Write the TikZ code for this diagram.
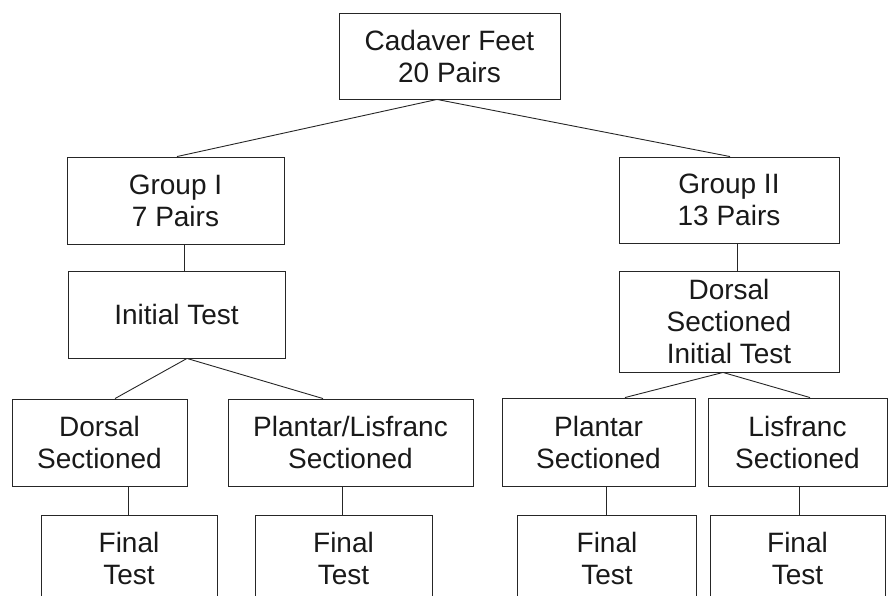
\documentclass[tikz,border=0pt]{standalone}
\usepackage{fontspec}
\setmainfont{Liberation Sans}
\usetikzlibrary{calc}
\begin{document}
\begin{tikzpicture}[x=1pt,y=-1pt,
  box/.style={draw=black!85, line width=0.9pt, rectangle, inner sep=0pt, align=center,
    font=\fontsize{28}{32}\selectfont, text=black!90},
  conn/.style={draw=black!85, line width=0.9pt}]
\useasboundingbox (0,0) rectangle (889,596);
\clip (0,0) rectangle (889,596);
\node[box, minimum width=221pt, minimum height=86pt] (top) at (449.5,56) {Cadaver Feet\\20 Pairs};
\node[box, minimum width=217pt, minimum height=87pt] (g1) at (175.5,200.5) {Group I\\7 Pairs};
\node[box, minimum width=217pt, minimum height=87pt] (it1) at (176.5,314.5) {Initial Test};
\node[box, minimum width=220pt, minimum height=86pt] (g2) at (729,200) {Group II\\13 Pairs};
\node[box, minimum width=220pt, minimum height=101pt] (it2) at (729,321.5) {Dorsal\\Sectioned\\Initial Test};
\node[box, minimum width=175pt, minimum height=87pt] (ds) at (99.5,442.5) {Dorsal\\Sectioned};
\node[box, minimum width=245pt, minimum height=87pt] (pl) at (350.5,442.5) {Plantar/Lisfranc\\Sectioned};
\node[box, minimum width=193pt, minimum height=88pt] (ps) at (598.5,442) {Plantar\\Sectioned};
\node[box, minimum width=179pt, minimum height=88pt] (ls) at (797.5,442) {Lisfranc\\Sectioned};
\node[box, minimum width=176pt, minimum height=87pt] (f1) at (129,558.5) {Final\\Test};
\node[box, minimum width=177pt, minimum height=87pt] (f2) at (343.5,558.5) {Final\\Test};
\node[box, minimum width=179pt, minimum height=87pt] (f3) at (607,558.5) {Final\\Test};
\node[box, minimum width=175pt, minimum height=87pt] (f4) at (797.5,558.5) {Final\\Test};
% connectors
\draw[conn] ([xshift=-12.5pt]top.south) -- ([xshift=1.5pt]g1.north);
\draw[conn] ([xshift=-12.5pt]top.south) -- ([xshift=1pt]g2.north);
\draw[conn] ([xshift=8.5pt]g1.south) -- ([xshift=7.5pt]it1.north);
\draw[conn] ([xshift=8pt]g2.south) -- ([xshift=8pt]it2.north);
\draw[conn] ([xshift=10.5pt]it1.south) -- ([xshift=15.5pt]ds.north);
\draw[conn] ([xshift=10.5pt]it1.south) -- ([xshift=-27.5pt]pl.north);
\draw[conn] ([xshift=-6pt]it2.south) -- ([xshift=26.5pt]ps.north);
\draw[conn] ([xshift=-6pt]it2.south) -- ([xshift=12.5pt]ls.north);
\draw[conn] ([xshift=28.5pt]ds.south) -- ([xshift=-1pt]f1.north);
\draw[conn] ([xshift=-8.5pt]pl.south) -- ([xshift=-1.5pt]f2.north);
\draw[conn] ([xshift=7.5pt]ps.south) -- ([xshift=-1pt]f3.north);
\draw[conn] ([xshift=1.5pt]ls.south) -- ([xshift=1.5pt]f4.north);
\end{tikzpicture}
\end{document}
